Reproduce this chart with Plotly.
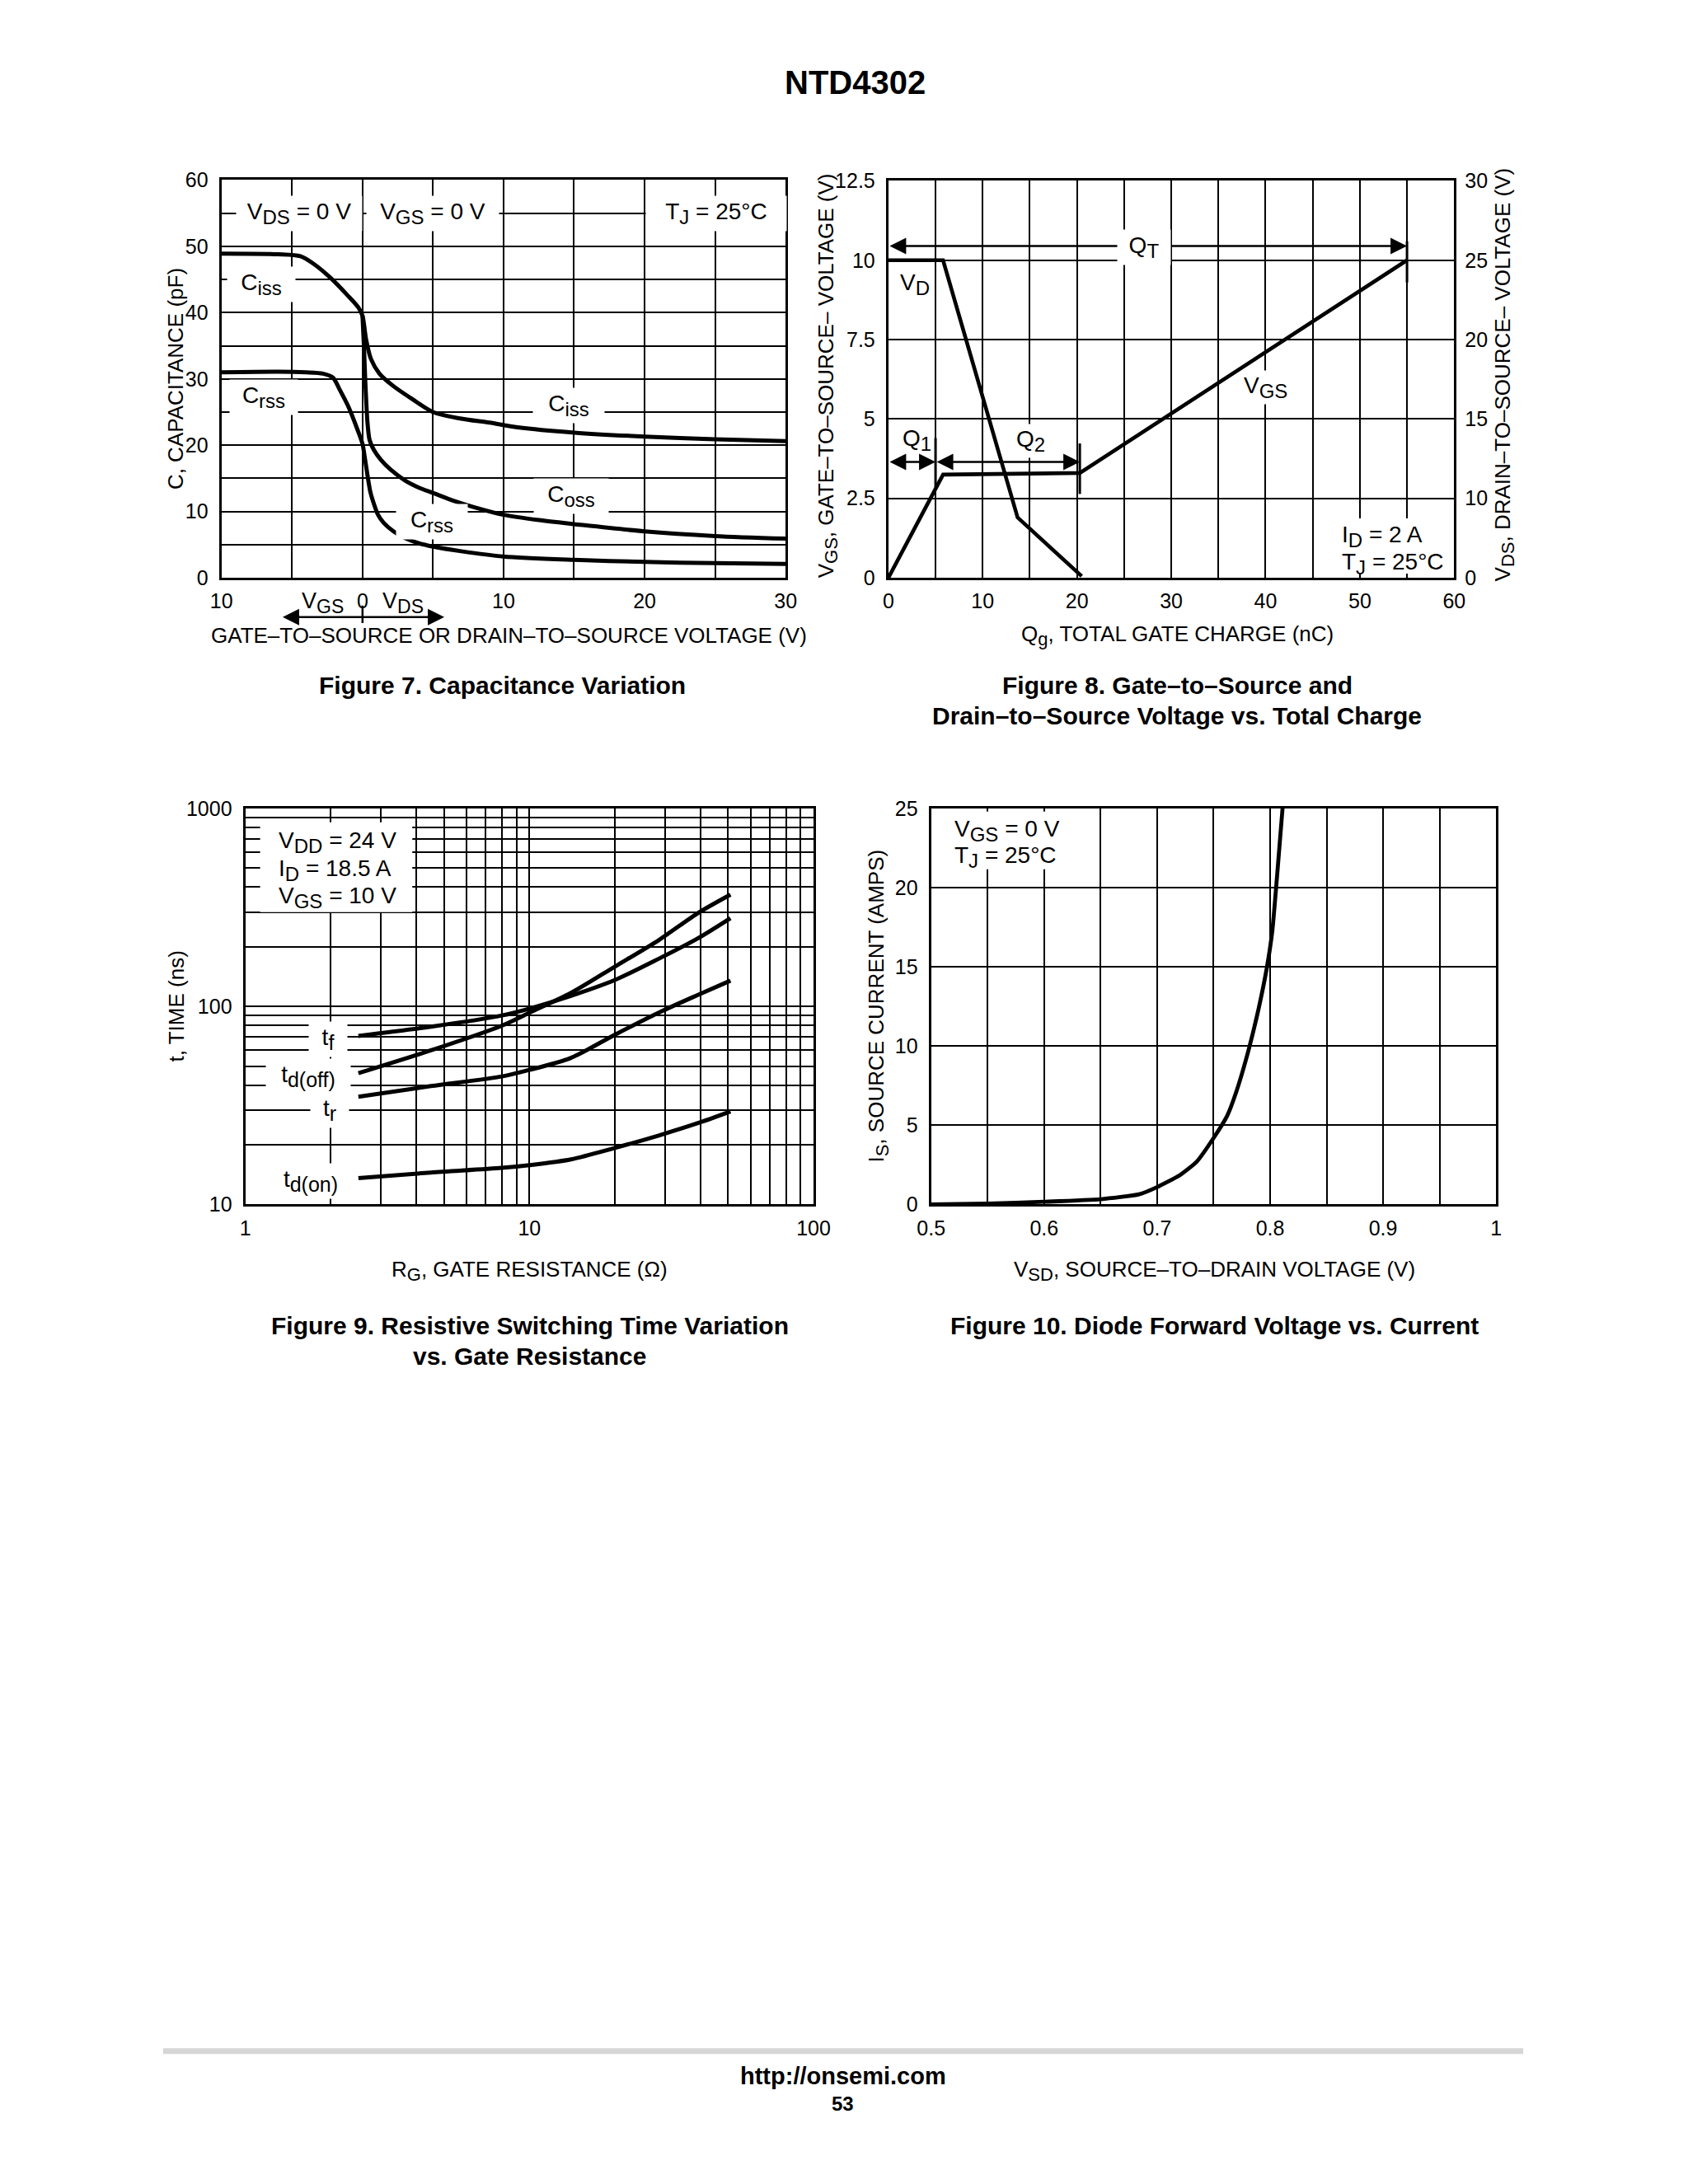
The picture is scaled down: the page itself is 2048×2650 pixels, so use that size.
import math
import plotly.graph_objects as go

FONT = "Liberation Sans, Arial, Helvetica, sans-serif"

# ---------------- Figure 7 : capacitance variation ----------------
# negative x = VGS side, positive x = VDS side
ciss_v = [-10, -6, -4.4, -3.5, -2.3, -1.1, -0.3, 0, 0.25, 0.6, 1.2, 2.2, 3.5, 5, 7, 9, 11, 15, 20, 25, 30]
ciss_c = [48.9, 48.8, 48.5, 47.4, 45.3, 42.7, 40.8, 39.5, 36.0, 33.0, 30.8, 28.9, 27.0, 25.0, 24.0, 23.4, 22.7, 21.9, 21.3, 20.9, 20.6]
coss_v = [0, 0.1, 0.2, 0.35, 0.5, 0.8, 1.3, 2, 3, 4, 5, 6.5, 8, 10, 12.5, 15, 20, 25, 30]
coss_c = [39.5, 35.0, 29.5, 23.5, 20.8, 19.3, 17.8, 16.3, 14.7, 13.6, 12.8, 11.6, 10.6, 9.5, 8.7, 8.1, 7.0, 6.3, 5.9]
crss_v = [-10, -6, -4, -2.8, -2.1, -1.6, -1.0, -0.4, 0, 0.15, 0.35, 0.55, 0.8, 1.1, 1.5, 2.2, 3, 4, 5, 7, 10, 15, 20, 25, 30]
crss_c = [31.0, 31.1, 31.0, 30.8, 30.2, 28.3, 25.8, 22.6, 20.2, 18.3, 15.5, 13.0, 11.2, 9.5, 8.3, 7.0, 6.0, 5.2, 4.7, 4.0, 3.2, 2.7, 2.4, 2.2, 2.1]

f7_xtick_vals = [-10, -5, 0, 5, 10, 15, 20, 25, 30]
f7_xtick_text = ["10", "", "0", "", "10", "", "20", "", "30"]
f7_ytick_vals = [0, 5, 10, 15, 20, 25, 30, 35, 40, 45, 50, 55, 60]
f7_ytick_text = ["0", "", "10", "", "20", "", "30", "", "40", "", "50", "", "60"]

# ---------------- Figure 8 : gate charge ----------------
vgs_q = [0, 5.8, 20.3, 55]
vgs_v = [0, 3.25, 3.3, 10]
vd_q = [0, 5.8, 13.7, 20.5]
vd_v = [10, 10, 1.9, 0.05]          # drawn on the right-axis grid (same grid as left)
q1_end, q2_end, qt_end = 5, 20.3, 55
q_arrow_level, qt_arrow_level = 3.65, 10.45

f8_xtick_vals = [0, 5, 10, 15, 20, 25, 30, 35, 40, 45, 50, 55, 60]
f8_xtick_text = ["0", "", "10", "", "20", "", "30", "", "40", "", "50", "", "60"]
f8_ytick_vals = [0, 2.5, 5, 7.5, 10, 12.5]
f8_ytick_text = ["0", "2.5", "5", "7.5", "10", "12.5"]
f8_rtick_text = ["0", "10", "15", "20", "25", "30"]

# ---------------- Figure 9 : switching time vs RG ----------------
rg = [2.5, 4.5, 8, 10, 14, 20, 28.5, 39, 51]
t_f = [71, 79, 90, 97.5, 113, 136, 174, 220, 279]
t_doff = [46, 60, 80, 93, 117, 159, 216, 295, 367]
t_r = [35, 39.6, 44.3, 47.8, 55, 72, 93, 114, 135]
t_don = [13.6, 14.5, 15.3, 15.8, 16.9, 19.3, 22.3, 25.7, 29.5]

f9_xtick_vals = [1, 2, 3, 4, 5, 6, 7, 8, 9, 10, 20, 30, 40, 50, 60, 70, 80, 90, 100]
f9_xtick_text = ["1", "", "", "", "", "", "", "", "", "10", "", "", "", "", "", "", "", "", "100"]
f9_ytick_vals = [10, 20, 30, 40, 50, 60, 70, 80, 90, 100, 200, 300, 400, 500, 600, 700, 800, 900, 1000]
f9_ytick_text = ["10", "", "", "", "", "", "", "", "", "100", "", "", "", "", "", "", "", "", "1000"]

# ---------------- Figure 10 : diode forward voltage ----------------
vsd = [0.5, 0.55, 0.6, 0.65, 0.684, 0.70, 0.72, 0.735, 0.75, 0.762, 0.77, 0.78, 0.789, 0.797, 0.802, 0.806, 0.811]
i_s = [0.0, 0.05, 0.17, 0.33, 0.64, 1.1, 1.85, 2.7, 4.2, 5.6, 7.1, 9.5, 12.1, 14.9, 17.3, 20.6, 25.0]

f10_xtick_vals = [0.5, 0.55, 0.6, 0.65, 0.7, 0.75, 0.8, 0.85, 0.9, 0.95, 1.0]
f10_xtick_text = ["0.5", "", "0.6", "", "0.7", "", "0.8", "", "0.9", "", "1"]
f10_ytick_vals = [0, 5, 10, 15, 20, 25]
f10_ytick_text = ["0", "5", "10", "15", "20", "25"]

# ---------------- page geometry ----------------
W, H = 2048, 2650
# the photographed page comes out slightly reduced around its centre; pre-compensate
SX, TX, SY, TY = 0.9837, 15.7, 0.9902, 14.4


def fx(p):
    return (p - TX) / SX / W


def fy(p):
    return 1 - (p - TY) / SY / H


def axis(domain, anchor, vals, text, rng, typ="linear", standoff=8):
    return dict(domain=domain, anchor=anchor, range=rng, type=typ,
                tickmode="array", tickvals=vals, ticktext=text,
                showgrid=True, gridcolor="black", gridwidth=1.8,
                showline=True, mirror=True, linecolor="black", linewidth=3.2,
                ticks="", zeroline=False, fixedrange=True,
                tickfont=dict(family=FONT, size=25, color="black"),
                ticklabelstandoff=standoff)


def sub(s, size=24):
    return '<sub><span style="font-size:%dpx">%s</span></sub>' % (size, s)


fig = go.Figure()
line = dict(color="black", shape="spline", smoothing=0.8)
fig.add_trace(go.Scatter(x=ciss_v, y=ciss_c, mode="lines", line=dict(line, width=5), xaxis="x", yaxis="y"))
fig.add_trace(go.Scatter(x=coss_v, y=coss_c, mode="lines", line=dict(line, width=5), xaxis="x", yaxis="y"))
fig.add_trace(go.Scatter(x=crss_v, y=crss_c, mode="lines", line=dict(line, width=5), xaxis="x", yaxis="y"))

fig.add_trace(go.Scatter(x=vgs_q, y=vgs_v, mode="lines", line=dict(color="black", width=4.6), xaxis="x2", yaxis="y2"))
fig.add_trace(go.Scatter(x=vd_q, y=vd_v, mode="lines", line=dict(color="black", width=4.6), xaxis="x2", yaxis="y5"))

for series in (t_f, t_doff, t_r, t_don):
    fig.add_trace(go.Scatter(x=rg, y=series, mode="lines", line=dict(line, width=5), xaxis="x3", yaxis="y3"))

fig.add_trace(go.Scatter(x=vsd, y=i_s, mode="lines", line=dict(color="black", width=4.8, shape="spline", smoothing=0.5),
                         xaxis="x4", yaxis="y4"))

layout = dict(
    width=W, height=H, autosize=False, margin=dict(l=0, r=0, t=0, b=0),
    paper_bgcolor="white", plot_bgcolor="white", showlegend=False,
    font=dict(family=FONT, color="black", size=25),
    xaxis=axis([fx(268), fx(954)], "y", f7_xtick_vals, f7_xtick_text, [-10, 30], standoff=4),
    yaxis=axis([fy(702), fy(219)], "x", f7_ytick_vals, f7_ytick_text, [0, 60]),
    xaxis2=axis([fx(1079), fx(1767)], "y2", f8_xtick_vals, f8_xtick_text, [0, 60], standoff=4),
    yaxis2=axis([fy(702), fy(220)], "x2", f8_ytick_vals, f8_ytick_text, [0, 12.5]),
    xaxis3=axis([fx(297), fx(988)], "y3", f9_xtick_vals, f9_xtick_text, [0, 2], typ="log", standoff=4),
    yaxis3=axis([fy(1463), fy(982)], "x3", f9_ytick_vals, f9_ytick_text, [1, 3], typ="log"),
    xaxis4=axis([fx(1131), fx(1818)], "y4", f10_xtick_vals, f10_xtick_text, [0.5, 1.0], standoff=4),
    yaxis4=axis([fy(1463), fy(982)], "x4", f10_ytick_vals, f10_ytick_text, [0, 25]),
)
layout["yaxis5"] = dict(axis([fy(702), fy(220)], "x2", f8_ytick_vals, f8_rtick_text, [0, 12.5], standoff=12),
                        overlaying="y2", side="right", showgrid=False, showline=False)
fig.update_layout(**layout)

anns = []


def text(t, x, y, xref="paper", yref="paper", size=25, bold=False, bg=None, xanchor="center",
         angle=0, width=None, height=None, pad=3, align="center"):
    a = dict(text=("<b>%s</b>" % t) if bold else t, x=x, y=y, xref=xref, yref=yref,
             showarrow=False, xanchor=xanchor, yanchor="middle", textangle=angle, align=align,
             font=dict(family=FONT, size=size, color="black"), borderpad=pad)
    if bg:
        a["bgcolor"] = bg
    if width:
        a["width"] = width
    if height:
        a["height"] = height
    anns.append(a)


def arrow(x0, x1, y, xref, yref):
    anns.append(dict(text="", x=x1, y=y, ax=x0, ay=y, xref=xref, yref=yref, axref=xref, ayref=yref,
                     showarrow=True, arrowhead=2, arrowside="end+start", arrowsize=1.6,
                     arrowwidth=2.5, arrowcolor="black", standoff=0, startstandoff=0))


# page texts
text("NTD4302", fx(1039), fy(100), size=40, bold=True)
text("Figure 7. Capacitance Variation", fx(610), fy(833), size=30, bold=True)
text("Figure 8. Gate–to–Source and", fx(1430), fy(833), size=30, bold=True)
text("Drain–to–Source Voltage vs. Total Charge", fx(1430), fy(870), size=30, bold=True)
text("Figure 9. Resistive Switching Time Variation", fx(643), fy(1610), size=30, bold=True)
text("vs. Gate Resistance", fx(643), fy(1647), size=30, bold=True)
text("Figure 10. Diode Forward Voltage vs. Current", fx(1476), fy(1610), size=30, bold=True)
text("http://onsemi.com", fx(1024), fy(2521), size=29, bold=True)
text("53", fx(1024), fy(2555), size=24, bold=True)

# axis titles
text("GATE–TO–SOURCE OR DRAIN–TO–SOURCE VOLTAGE (V)", fx(618), fy(772), size=26)
text("C, CAPACITANCE (pF)", fx(212), fy(460), size=26, angle=-90)
text("Q" + sub("g", 22) + ", TOTAL GATE CHARGE (nC)", fx(1430), fy(772), size=26)
text("V" + sub("GS", 22) + ", GATE–TO–SOURCE– VOLTAGE (V)", fx(1005), fy(457), size=26, angle=-90)
text("V" + sub("DS", 22) + ", DRAIN–TO–SOURCE– VOLTAGE (V)", fx(1828), fy(455), size=26, angle=-90)
text("R" + sub("G", 22) + ", GATE RESISTANCE (Ω)", fx(643), fy(1544), size=26)
text("t, TIME (ns)", fx(213), fy(1222), size=26, angle=-90)
text("V" + sub("SD", 22) + ", SOURCE–TO–DRAIN VOLTAGE (V)", fx(1476), fy(1544), size=26)
text("I" + sub("S", 22) + ", SOURCE CURRENT (AMPS)", fx(1066), fy(1222), size=26, angle=-90)

# figure 7 labels
text("V" + sub("GS", 23), -2.8, fy(732), xref="x", size=27)
text("V" + sub("DS", 23), 2.85, fy(732), xref="x", size=27)
arrow(-5.75, 5.8, -0.099, "x", "y domain")
text("V" + sub("DS") + " = 0 V", -4.5, 55, "x", "y", size=28, bg="white", width=146, pad=3)
text("V" + sub("GS") + " = 0 V", 5.0, 55, "x", "y", size=28, bg="white", width=154, pad=3)
text("T" + sub("J") + " = 25°C", 25.1, 55, "x", "y", size=28, bg="white", width=164, pad=3)
text("C" + sub("iss"), -7.2, 44.3, "x", "y", size=28, bg="white", width=76, pad=3)
text("C" + sub("rss"), -7.0, 27.2, "x", "y", size=28, bg="white", width=76, pad=3)
text("C" + sub("iss"), 14.6, 26.0, "x", "y", size=28, bg="white", width=80, pad=3)
text("C" + sub("oss"), 14.8, 12.3, "x", "y", size=28, bg="white", width=84, pad=3)
text("C" + sub("rss"), 4.9, 8.5, "x", "y", size=28, bg="white", width=80, pad=3)

# figure 8 labels
arrow(0, qt_end, qt_arrow_level, "x2", "y2")
arrow(0, q1_end, q_arrow_level, "x2", "y2")
arrow(q1_end, q2_end, q_arrow_level, "x2", "y2")
text("Q" + sub("T"), 27.1, 10.4, "x2", "y2", size=28, bg="white", width=58, pad=3)
text("V" + sub("D"), 2.8, 9.25, "x2", "y2", size=28)
text("V" + sub("GS"), 40, 6.0, "x2", "y2", size=28, bg="white", pad=2)
text("Q" + sub("1"), 3.0, 4.33, "x2", "y2", size=28)
text("Q" + sub("2"), 15.1, 4.3, "x2", "y2", size=28, bg="white", pad=2)
text("I" + sub("D") + " = 2 A", fx(1626), fy(652), xanchor="left", size=28)
text("T" + sub("J") + " = 25°C", fx(1626), fy(685), xanchor="left", size=28)

# figure 9 labels
L = math.log10
text("V" + sub("DD") + " = 24 V", fx(333), fy(1023), xanchor="left", size=28)
text("I" + sub("D") + " = 18.5 A", fx(333), fy(1057), xanchor="left", size=28)
text("V" + sub("GS") + " = 10 V", fx(333), fy(1090), xanchor="left", size=28)
text("t" + sub("f", 25), L(1.96), L(68.6), "x3", "y3", size=28, bg="white", width=40, pad=3)
text("t" + sub("d(off)", 25), L(1.66), L(44.2), "x3", "y3", size=28, bg="white", width=96, pad=3)
text("t" + sub("r", 25), L(1.98), L(30), "x3", "y3", size=28, bg="white", width=40, pad=3)
text("t" + sub("d(on)", 25), L(1.70), L(13.1), "x3", "y3", size=28, bg="white", width=90, pad=3)

# figure 10 labels
text("V" + sub("GS") + " = 0 V", fx(1155), fy(1009), xanchor="left", size=28)
text("T" + sub("J") + " = 25°C", fx(1155), fy(1041), xanchor="left", size=28)

fig.update_layout(annotations=anns)


def box(x0, x1, y0, y1):
    return dict(type="rect", xref="paper", yref="paper", x0=fx(x0), x1=fx(x1), y0=fy(y1), y1=fy(y0),
                fillcolor="white", line=dict(width=0), layer="above")


shapes = [
    box(315, 500, 999, 1108),
    box(1148, 1290, 986, 1056),
    box(1616, 1762, 630, 697),
    dict(type="line", xref="x", yref="y domain", x0=0, x1=0, y0=-0.07, y1=-0.114,
         line=dict(color="black", width=2.5)),
    dict(type="line", xref="x2", yref="y2", x0=q1_end, x1=q1_end, y0=2.85, y1=4.4,
         line=dict(color="black", width=3)),
    dict(type="line", xref="x2", yref="y2", x0=q2_end, x1=q2_end, y0=2.64, y1=4.23,
         line=dict(color="black", width=3)),
    dict(type="line", xref="x2", yref="y2", x0=qt_end, x1=qt_end, y0=9.3, y1=10.6,
         line=dict(color="black", width=3)),
    dict(type="line", xref="paper", yref="paper", x0=fx(197), x1=fx(1851), y0=fy(2491), y1=fy(2491),
         line=dict(color="#d6d6d6", width=7)),
]
fig.update_layout(shapes=shapes)

fig.write_html("out.html", config={"displayModeBar": False},
               post_script="document.body.style.margin='0';document.body.style.overflow='hidden';")
